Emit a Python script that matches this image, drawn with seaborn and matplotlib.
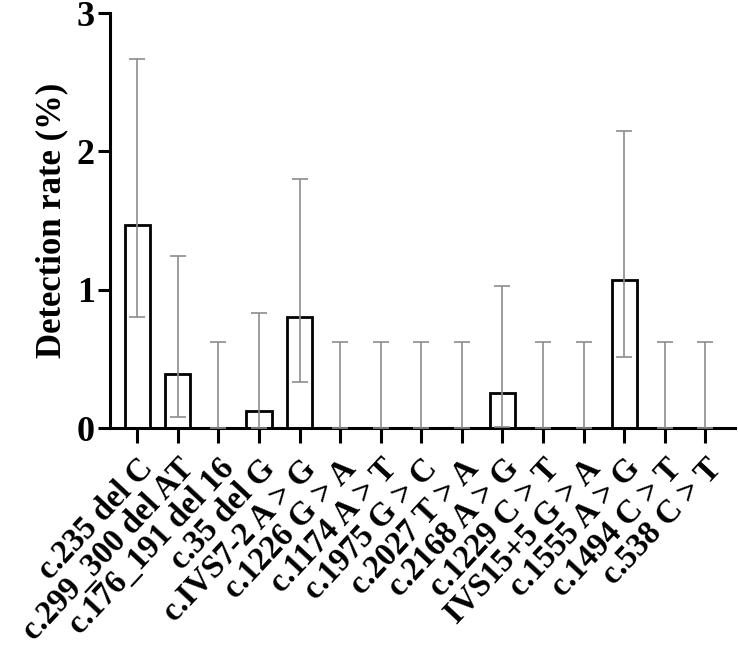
import numpy as np
import pandas as pd
import matplotlib
matplotlib.use("Agg")
import matplotlib.pyplot as plt
import seaborn as sns

categories = ["c.235 del C", "c.299_300 del AT", "c.176_191 del 16", "c.35 del G",
              "c.IVS7-2 A > G", "c.1226 G > A", "c.1174 A > T", "c.1975 G > C",
              "c.2027 T > A", "c.2168 A > G", "c.1229 C > T", "IVS15+5 G > A",
              "c.1555 A > G", "c.1494 C > T", "c.538 C > T"]
rates = [1.47, 0.39, 0.0, 0.12, 0.80, 0.0, 0.0, 0.0, 0.0, 0.25, 0.0, 0.0, 1.07, 0.0, 0.0]
ci_low = [0.80, 0.08, 0.0, 0.0, 0.33, 0.0, 0.0, 0.0, 0.0, 0.01, 0.0, 0.0, 0.51, 0.0, 0.0]
ci_high = [2.67, 1.24, 0.62, 0.83, 1.80, 0.62, 0.62, 0.62, 0.62, 1.03, 0.62, 0.62, 2.15, 0.62, 0.62]
yticks = [0, 1, 2, 3]

sns.set_style("ticks")
plt.rcParams['font.family'] = ['Liberation Serif', 'DejaVu Serif']
plt.rcParams['font.weight'] = 'bold'
for k in ['text.color', 'axes.labelcolor', 'xtick.color', 'ytick.color', 'axes.edgecolor']:
    plt.rcParams[k] = 'black'

df = pd.DataFrame({"mutation": categories, "rate": rates})

fig = plt.figure(figsize=(7.38, 6.51), dpi=100)
ax = fig.add_axes([0.149, 0.3425, 0.847, 0.6375])

sns.barplot(data=df, x="mutation", y="rate", ax=ax, color="white",
            edgecolor="black", linewidth=2, width=0.62, errorbar=None, zorder=2)

x = np.arange(len(categories))
lo = np.array(rates) - np.array(ci_low)
hi = np.array(ci_high) - np.array(rates)
ax.errorbar(x, rates, yerr=[lo, hi], fmt="none", ecolor="#8c8c8c",
            elinewidth=1.2, capsize=6, capthick=1.2, zorder=3)

ax.set_xlim(-0.67, 14.73)
ax.set_ylim(0, 3)
ax.set_yticks(yticks)
ax.set_yticklabels([str(t) for t in yticks], fontsize=26, fontweight="bold", color="black")
ax.set_xticks(x)
ax.set_xticklabels(categories, rotation=47, ha="right", rotation_mode="anchor",
                   fontsize=23.5, fontweight="bold", color="black")
ax.set_xlabel("")
ax.set_ylabel("Detection rate (%)", fontsize=25, fontweight="bold", labelpad=6, color="black")

for s in ["top", "right"]:
    ax.spines[s].set_visible(False)
for s in ["left", "bottom"]:
    ax.spines[s].set_linewidth(2.2)
    ax.spines[s].set_color("black")
ax.tick_params(axis="both", width=2.2, length=9, color="black", direction="out")
ax.tick_params(axis="x", length=11, pad=7)
ax.tick_params(axis="y", pad=2)

fig.savefig("out.png", dpi=100)
